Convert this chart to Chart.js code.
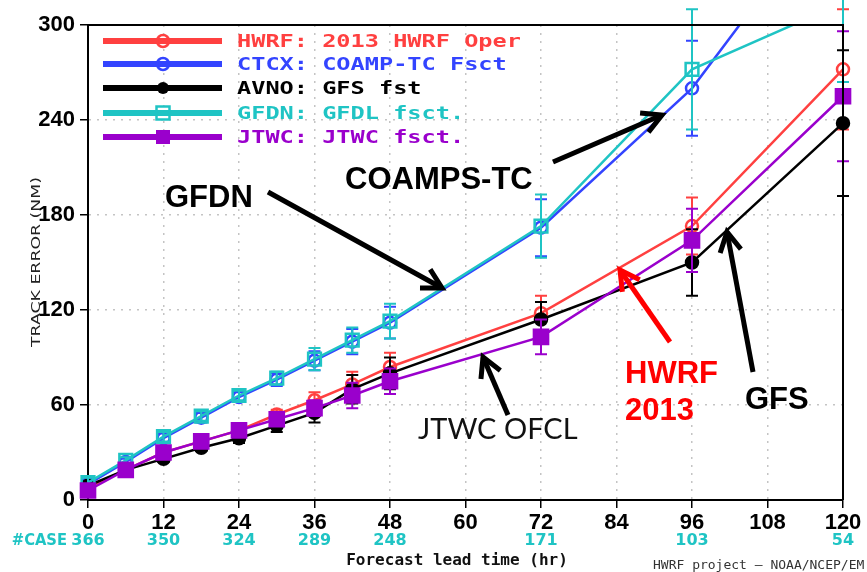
<!DOCTYPE html>
<html>
<head>
<meta charset="utf-8">
<script src="https://cdn.jsdelivr.net/npm/chart.js@4.4.1/dist/chart.umd.min.js"></script>
<style>
  html, body { margin: 0; padding: 0; background: #fff; }
  #wrap { width: 867px; height: 572px; }
</style>
</head>
<body>
<div id="wrap"><canvas id="trackChart" width="867" height="572"></canvas></div>
<script>
// Forecast lead times (hr) and mean track errors (NM)
const leadHours = [0, 6, 12, 18, 24, 30, 36, 42, 48, 72, 96, 120];
const hwrfErr = [8, 19, 30, 37, 44, 54, 63, 73, 84, 118, 173, 272];
const ctcxErr = [10, 24, 39, 52, 65, 76, 88, 100, 112, 172, 260, 387];
const avnoErr = [9, 19, 26, 33, 39, 47, 55, 70, 80, 114, 150, 238];
const gfdnErr = [11, 25, 40, 53, 66, 77, 89, 101, 113, 173, 272, 314];
const jtwcErr = [6, 19, 30, 37, 44, 51, 58, 66, 75, 103, 164, 255];

// half widths of the confidence bars
const hwrfCI = [2, 2, 2, 2, 3, 3, 5, 8, 9, 11, 18, 38];
const ctcxCI = [3, 2, 3, 3, 3, 4, 6, 8, 10, 18, 30, 45];
const avnoCI = [2, 2, 2, 2, 3, 4, 6, 9, 10, 11, 21, 46];
const gfdnCI = [3, 2, 3, 3, 3, 4, 7, 8, 11, 20, 38, 50];
const jtwcCI = [2, 2, 2, 2, 3, 4, 5, 8, 8, 11, 20, 41];

// number of cases under the x axis
const caseHours = [0, 12, 24, 36, 48, 72, 96, 120];
const caseCounts = [366, 350, 324, 289, 248, 171, 103, 54];

const legendLabels = [
    'HWRF: 2013 HWRF Oper',
    'CTCX: COAMP-TC Fsct',
    'AVNO: GFS fst',
    'GFDN: GFDL fsct.',
    'JTWC: JTWC fsct.'
];

const RED = '#ff4040', BLUE = '#3344ff', BLACK = '#000000', CYAN = '#1fc4c4', PURPLE = '#9a00cc';

function pairs(vals) {
    return leadHours.map((h, i) => ({ x: h, y: vals[i] }));
}

function series(label, vals, ci, color, style, filled, order, radius) {
    return {
        label: label,
        data: pairs(vals),
        ci: ci,
        borderColor: color,
        backgroundColor: color,
        borderWidth: 2.5,
        pointStyle: style,
        pointRadius: radius,
        pointBorderWidth: 2.5,
        pointBorderColor: color,
        pointBackgroundColor: filled ? color : 'rgba(0,0,0,0)',
        tension: 0,
        order: order,
        clip: { left: 14, right: 14, bottom: 14, top: 1 }
    };
}

function drawMarker(ctx, style, filled, color, x, y, r) {
    ctx.save();
    ctx.strokeStyle = color;
    ctx.fillStyle = color;
    ctx.lineWidth = 2.5;
    ctx.beginPath();
    if (style === 'circle') ctx.arc(x, y, r, 0, Math.PI * 2);
    else ctx.rect(x - r, y - r, r * 2, r * 2);
    if (filled) ctx.fill(); else ctx.stroke();
    ctx.restore();
}

function wideText(ctx, text, x, y, font, sx, color, align) {
    ctx.save();
    ctx.font = font;
    ctx.fillStyle = color;
    ctx.textAlign = align || 'left';
    ctx.textBaseline = 'middle';
    ctx.translate(x, y);
    ctx.scale(sx, 1);
    ctx.fillText(text, 0, 0);
    ctx.restore();
}

function arrow(ctx, x1, y1, x2, y2, color) {
    const a = Math.atan2(y2 - y1, x2 - x1), len = 22, spread = 0.5;
    ctx.save();
    ctx.strokeStyle = color;
    ctx.lineWidth = 5;
    ctx.lineCap = 'butt';
    ctx.lineJoin = 'miter';
    ctx.beginPath();
    ctx.moveTo(x1, y1);
    ctx.lineTo(x2, y2);
    ctx.stroke();
    ctx.beginPath();
    ctx.moveTo(x2 - len * Math.cos(a - spread), y2 - len * Math.sin(a - spread));
    ctx.lineTo(x2, y2);
    ctx.lineTo(x2 - len * Math.cos(a + spread), y2 - len * Math.sin(a + spread));
    ctx.stroke();
    ctx.restore();
}

// error bars, drawn after each dataset, not clipped to the plot
const errorBars = {
    id: 'errorBars',
    afterDatasetDraw(chart, args) {
        const ds = chart.data.datasets[args.index];
        const xs = chart.scales.x, ys = chart.scales.y;
        const ctx = chart.ctx;
        ctx.save();
        ctx.strokeStyle = ds.borderColor;
        ctx.lineWidth = 2;
        ds.data.forEach((p, i) => {
            const x = xs.getPixelForValue(p.x);
            const top = ys.getPixelForValue(p.y + ds.ci[i]);
            const bot = ys.getPixelForValue(p.y - ds.ci[i]);
            ctx.beginPath();
            ctx.moveTo(x, top); ctx.lineTo(x, bot);
            ctx.moveTo(x - 6, top); ctx.lineTo(x + 6, top);
            ctx.moveTo(x - 6, bot); ctx.lineTo(x + 6, bot);
            ctx.stroke();
        });
        ctx.restore();
    }
};

const decorations = {
    id: 'decorations',
    afterDraw(chart) {
        const ctx = chart.ctx;
        const area = chart.chartArea;
        const xs = chart.scales.x;

        // top and right frame
        ctx.save();
        ctx.strokeStyle = '#000';
        ctx.lineWidth = 2;
        ctx.beginPath();
        ctx.moveTo(area.left, area.top);
        ctx.lineTo(area.right, area.top);
        ctx.lineTo(area.right, area.bottom);
        ctx.stroke();
        ctx.restore();

        // legend
        const colors = [RED, BLUE, BLACK, CYAN, PURPLE];
        const styles = [['circle', false, 6], ['circle', false, 6], ['circle', true, 6], ['rect', false, 6.5], ['rect', true, 7]];
        const rows = [41, 64, 88, 113, 137];
        legendLabels.forEach((txt, i) => {
            ctx.save();
            ctx.strokeStyle = colors[i];
            ctx.lineWidth = 6;
            ctx.beginPath();
            ctx.moveTo(103, rows[i]);
            ctx.lineTo(222, rows[i]);
            ctx.stroke();
            ctx.restore();
            drawMarker(ctx, styles[i][0], styles[i][1], colors[i], 163, rows[i], styles[i][2]);
            wideText(ctx, txt, 237, rows[i] + 1, 'bold 18px "DejaVu Sans Mono"', 1.31, colors[i]);
        });

        // #CASE row
        wideText(ctx, '#CASE', 67, 541, 'bold 16px "DejaVu Sans"', 0.92, CYAN, 'right');
        ctx.save();
        ctx.font = 'bold 16px "DejaVu Sans"';
        ctx.fillStyle = CYAN;
        ctx.textBaseline = 'middle';
        ctx.textAlign = 'center';
        caseHours.forEach((h, i) => {
            ctx.fillText(String(caseCounts[i]), xs.getPixelForValue(h), 541);
        });
        ctx.restore();

        // axis titles and credit
        wideText(ctx, 'Forecast lead time (hr)', 457, 561, 'bold 16px "DejaVu Sans Mono"', 1, '#111', 'center');
        wideText(ctx, 'HWRF project \u2014 NOAA/NCEP/EM', 653, 566, '13px "DejaVu Sans Mono"', 1, '#333', 'left');

        ctx.save();
        ctx.translate(36.5, 262);
        ctx.rotate(-Math.PI / 2);
        ctx.font = '12px "DejaVu Sans"';
        const tw = ctx.measureText('TRACK ERROR (NM)').width;
        ctx.scale(170 / tw, 1);
        ctx.fillStyle = '#222';
        ctx.textAlign = 'center';
        ctx.textBaseline = 'middle';
        ctx.fillText('TRACK ERROR (NM)', 0, 0);
        ctx.restore();

        // annotations
        ctx.save();
        ctx.textBaseline = 'middle';
        ctx.textAlign = 'left';
        ctx.fillStyle = '#000';
        ctx.font = 'bold 31px "Liberation Sans"';
        ctx.fillText('GFDN', 165, 198);
        ctx.fillText('COAMPS-TC', 345, 180);
        ctx.fillText('GFS', 745, 400);
        ctx.fillStyle = '#ff0000';
        ctx.fillText('HWRF', 625, 374);
        ctx.fillText('2013', 625, 411);
        ctx.fillStyle = '#111';
        ctx.font = '29px Lato';
        ctx.fillText('JTWC OFCL', 418, 430);
        ctx.restore();

        arrow(ctx, 268, 192, 442, 288, '#000');
        arrow(ctx, 553, 162, 662, 115, '#000');
        arrow(ctx, 508, 415, 483, 357, '#000');
        arrow(ctx, 670, 342, 620, 270, '#ff0000');
        arrow(ctx, 753, 372, 727, 232, '#000');
    }
};

const tickFont = { family: '"Liberation Sans"', size: 22, weight: 'bold' };

new Chart(document.getElementById('trackChart'), {
    type: 'line',
    data: {
        datasets: [
            series('HWRF', hwrfErr, hwrfCI, RED, 'circle', false, 5, 6),
            series('CTCX', ctcxErr, ctcxCI, BLUE, 'circle', false, 4, 6),
            series('AVNO', avnoErr, avnoCI, BLACK, 'circle', true, 3, 6),
            series('GFDN', gfdnErr, gfdnCI, CYAN, 'rect', false, 2, 9),
            series('JTWC', jtwcErr, jtwcCI, PURPLE, 'rect', true, 1, 10)
        ]
    },
    options: {
        responsive: false,
        animation: false,
        events: [],
        layout: { padding: { left: 0, top: 25, right: 24, bottom: 0 } },
        plugins: { legend: { display: false }, tooltip: { enabled: false } },
        scales: {
            x: {
                type: 'linear',
                min: 0,
                max: 120,
                afterFit(s) { s.height = 72; },
                ticks: { stepSize: 12, autoSkip: false, maxRotation: 0, font: tickFont, color: '#000', padding: 2 },
                grid: { color: '#c4c4c4', lineWidth: 1.5, tickColor: '#000', tickLength: 8, tickWidth: 1.5, tickBorderDash: [] },
                border: { color: '#000', width: 2, dash: [2, 6] }
            },
            y: {
                min: 0,
                max: 300,
                afterFit(s) { s.width = 88; },
                ticks: { stepSize: 60, font: tickFont, color: '#000', padding: 5 },
                grid: { color: '#c4c4c4', lineWidth: 1.5, tickColor: '#000', tickLength: 8, tickWidth: 1.5, tickBorderDash: [] },
                border: { color: '#000', width: 2, dash: [2, 6] }
            }
        }
    },
    plugins: [errorBars, decorations]
});
</script>
</body>
</html>
